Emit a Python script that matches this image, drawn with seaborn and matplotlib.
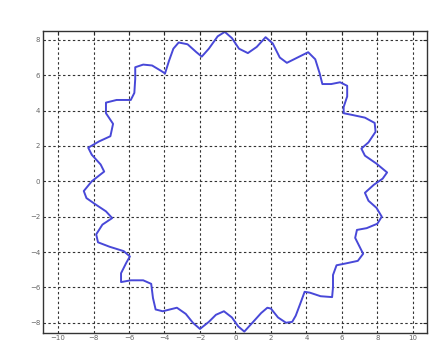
import pandas as pd
import matplotlib
matplotlib.use("Agg")
import matplotlib.pyplot as plt
import seaborn as sb

# curve points, clockwise from the upper left
x_pts = [-3.97, -3.75, -3.5, -3.2, -2.7, -2.2, -1.9, -1.5, -1.0, -0.6, -0.2, 0.2,
         0.7, 1.2, 1.7, 2.1, 2.5, 2.9, 3.5, 4.1, 4.5, 4.75, 4.9, 5.4, 5.9,
         6.3, 6.3, 6.1, 6.1, 6.6, 7.3, 7.85, 7.9, 7.5, 7.1, 7.3, 7.95, 8.55,
         8.3, 7.8, 7.3, 7.5, 7.95, 8.25, 8.0, 7.4, 6.85, 6.75, 7.0, 7.2, 6.9,
         6.2, 5.7, 5.5, 5.5, 5.45, 4.8, 4.2, 3.9, 3.7, 3.4, 3.2, 2.85, 2.4,
         2.0, 1.8, 1.45, 1.0, 0.5, 0.15, -0.2, -0.65, -1.1, -1.5, -2.0, -2.4,
         -2.8, -3.3, -3.7, -4.1, -4.5, -4.65, -4.75, -5.2, -5.9, -6.45, -6.45,
         -6.15, -5.95, -6.3, -7.1, -7.75, -7.85, -7.5, -6.95, -7.3, -7.9, -8.4,
         -8.55, -8.1, -7.4, -7.6, -8.1, -8.3, -7.7, -7.05, -6.9, -7.3, -7.3,
         -6.7, -5.9, -5.7, -5.65, -5.65, -5.2, -4.7, -4.2, -3.97]
y_pts = [6.1, 6.8, 7.5, 7.85, 7.75, 7.3, 7.05, 7.5, 8.2, 8.45, 8.1, 7.5,
         7.25, 7.6, 8.15, 7.8, 7.0, 6.7, 7.0, 7.3, 6.9, 6.1, 5.5, 5.5, 5.6,
         5.4, 4.8, 4.2, 3.85, 3.75, 3.6, 3.3, 2.8, 2.2, 1.85, 1.45, 1.0, 0.5,
         0.15, -0.2, -0.65, -1.1, -1.5, -2.0, -2.4, -2.65, -2.75, -3.2, -3.7, -4.1, -4.5,
         -4.65, -4.75, -5.3, -6.0, -6.55, -6.5, -6.3, -6.25, -6.8, -7.6, -7.95, -8.0, -7.7,
         -7.2, -7.15, -7.45, -7.95, -8.5, -8.2, -7.7, -7.35, -7.55, -7.95, -8.35, -8.0,
         -7.5, -7.15, -7.25, -7.35, -7.25, -6.6, -5.8, -5.6, -5.6, -5.7, -5.2,
         -4.6, -4.25, -3.95, -3.7, -3.45, -3.0, -2.45, -2.08, -1.7, -1.3, -0.95,
         -0.55, 0.0, 0.55, 0.95, 1.5, 1.9, 2.25, 2.55, 3.25, 3.85, 4.45,
         4.6, 4.6, 5.0, 5.8, 6.45, 6.6, 6.55, 6.25, 6.1]
x_ticks = [-10, -8, -6, -4, -2, 0, 2, 4, 6, 8, 10]
y_ticks = [-8, -6, -4, -2, 0, 2, 4, 6, 8]

df = pd.DataFrame({'x': x_pts, 'y': y_pts})

sb.set_style('white')
fig = plt.figure(figsize=(4.45, 3.44), dpi=100)
ax = fig.add_axes([43 / 445, 1 - 333 / 344, 384 / 445, 302 / 344])

sb.lineplot(data=df, x='x', y='y', sort=False, estimator=None, ax=ax,
            color='#4848d8', linewidth=1.4)
ax.lines[0].set_solid_joinstyle('round')

ax.set_xlim(-10.85, 10.8)
ax.set_ylim(-8.58, 8.5)
ax.set_xticks(x_ticks)
ax.set_yticks(y_ticks)
ax.set_xlabel('')
ax.set_ylabel('')
ax.grid(True, color='#333333', linestyle=(0, (2.2, 2.2)), linewidth=0.8)
ax.tick_params(direction='in', length=3, width=0.8, top=True, right=True,
               labelsize=5, labelcolor='#666666', pad=2)
ax.tick_params(axis='x', pad=1.5)
for s in ax.spines.values():
    s.set_color('#333333')
    s.set_linewidth(1.0)

fig.savefig('out.png', dpi=100)
